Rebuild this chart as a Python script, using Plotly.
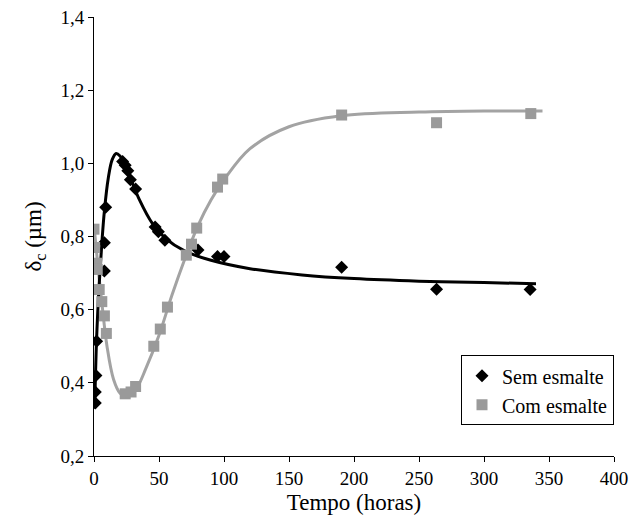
import plotly.graph_objects as go

# Measured points: "Sem esmalte" (black diamonds)
sem_x = [1, 1, 1.5, 2, 8, 8, 9, 22, 24, 26, 28, 32, 47, 49.5, 54.5, 80, 95, 100, 190.5, 263.5, 335.5]
sem_y = [0.345, 0.375, 0.42, 0.514, 0.706, 0.783, 0.880, 1.005, 0.995, 0.98, 0.955, 0.93,
         0.826, 0.813, 0.79, 0.763, 0.745, 0.745, 0.716, 0.656, 0.655]

# Measured points: "Com esmalte" (grey squares)
com_x = [0, 0.5, 2, 2.5, 4, 6, 8, 9.5, 24, 28.5, 32, 46, 51, 56.5, 71, 75, 79, 95, 99, 190.5, 263.5, 336]
com_y = [0.82, 0.77, 0.727, 0.71, 0.655, 0.622, 0.583, 0.535, 0.37, 0.375, 0.39, 0.50,
         0.547, 0.607, 0.749, 0.779, 0.823, 0.935, 0.957, 1.132, 1.111, 1.136]

# Fitted curves
sem_fit_x = [0.5, 2, 4, 6, 8, 11, 14, 17, 20, 24, 28, 35, 45, 55, 70, 90, 120, 160, 200, 250, 300, 340]
sem_fit_y = [0.33, 0.52, 0.67, 0.78, 0.87, 0.96, 1.01, 1.027, 1.02, 0.995, 0.96, 0.90,
             0.835, 0.795, 0.76, 0.735, 0.712, 0.695, 0.685, 0.678, 0.674, 0.671]

com_fit_x = [0, 3, 6, 10, 15, 20, 26, 32, 40, 50, 60, 70, 80, 90, 100, 120, 150, 190, 250, 300, 345]
com_fit_y = [0.83, 0.72, 0.62, 0.50, 0.41, 0.372, 0.362, 0.38, 0.44, 0.53, 0.64, 0.74,
             0.83, 0.90, 0.955, 1.04, 1.10, 1.13, 1.14, 1.143, 1.143]

x_ticks = [0, 50, 100, 150, 200, 250, 300, 350, 400]
y_ticks = [0.2, 0.4, 0.6, 0.8, 1.0, 1.2, 1.4]

BLACK = "#000000"
GREY = "#9a9a9a"
LINE_GREY = "#a3a3a3"
FONT = "'Liberation Serif', 'DejaVu Serif', serif"

fig = go.Figure()
fig.add_trace(go.Scatter(x=com_fit_x, y=com_fit_y, mode="lines", line=dict(color=LINE_GREY, width=3, shape="spline"),
                         showlegend=False, hoverinfo="skip"))
fig.add_trace(go.Scatter(x=sem_fit_x, y=sem_fit_y, mode="lines", line=dict(color=BLACK, width=3, shape="spline"),
                         showlegend=False, hoverinfo="skip"))
fig.add_trace(go.Scatter(x=sem_x, y=sem_y, mode="markers", name="Sem esmalte",
                         marker=dict(symbol="diamond", size=10, color=BLACK)))
fig.add_trace(go.Scatter(x=com_x, y=com_y, mode="markers", name="Com esmalte",
                         marker=dict(symbol="square", size=11, color=GREY)))

fig.update_layout(
    width=644, height=517,
    margin=dict(l=94, r=30, t=17, b=61),
    paper_bgcolor="white", plot_bgcolor="white",
    font=dict(family=FONT, size=19, color="black"),
    separators=",.",
    legend=dict(x=1, xanchor="right", y=0.07, yanchor="bottom",
                bordercolor="black", borderwidth=1, bgcolor="white",
                font=dict(family=FONT, size=20), itemwidth=30, tracegroupgap=0),
    xaxis=dict(range=[0, 400], tickvals=x_ticks, showgrid=False, zeroline=False,
               showline=True, linecolor="black", linewidth=1, automargin=False,
               ticks="outside", ticklen=5, tickcolor="black",
               title=dict(text="Tempo (horas)", standoff=6)),
    yaxis=dict(range=[0.2, 1.4], tickvals=y_ticks, tickformat=".1f", showgrid=False, zeroline=False,
               showline=True, linecolor="black", linewidth=1, automargin=False,
               ticks="outside", ticklen=5, tickcolor="black",
               title=dict(text="δ<sub>c</sub> (µm)", standoff=12)),
)

fig.write_html("out.html")
